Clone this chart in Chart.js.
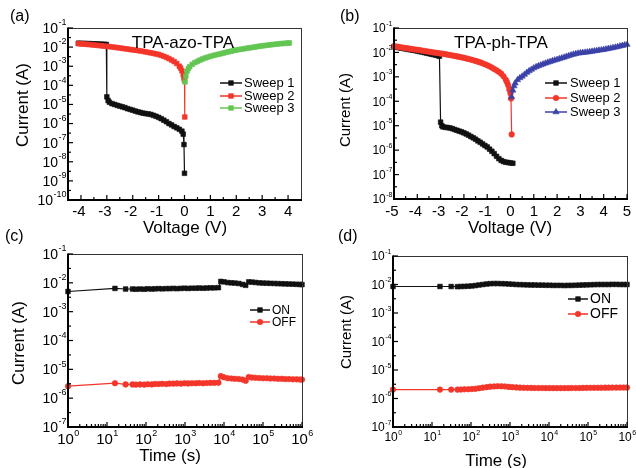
<!DOCTYPE html>
<html>
<head>
<meta charset="utf-8">
<script src="https://cdn.jsdelivr.net/npm/chart.js@4.4.0/dist/chart.umd.min.js"></script>
<style>
  html, body { margin: 0; padding: 0; background: #fff; }
  #wrap { position: relative; width: 636px; height: 468px; }
  #wrap canvas { position: absolute; left: 0; top: 0; }
</style>
</head>
<body>
<div id="wrap">
  <canvas id="panel-a" width="636" height="468"></canvas>
  <canvas id="panel-b" width="636" height="468"></canvas>
  <canvas id="panel-c" width="636" height="468"></canvas>
  <canvas id="panel-d" width="636" height="468"></canvas>
</div>
<script>
// (a) TPA-azo-TPA, [voltage, current]
var sweepA1 = [[-4.1,1.6e-2],[-4.0,1.58e-2],[-3.9,1.56e-2],[-3.8,1.54e-2],[-3.7,1.52e-2],[-3.6,1.5e-2],[-3.5,1.48e-2],
  [-3.4,1.46e-2],[-3.3,1.44e-2],[-3.2,1.42e-2],[-3.1,1.4e-2],[-3.02,1.38e-2],[-3.0,2.5e-5],[-2.95,1.6e-5],[-2.9,1.3e-5],
  [-2.8,1.1e-5],[-2.7,1.0e-5],[-2.6,9.0e-6],[-2.5,8.2e-6],[-2.4,7.5e-6],[-2.3,6.8e-6],[-2.2,6.0e-6],[-2.1,5.5e-6],
  [-2.0,5.0e-6],[-1.9,4.5e-6],[-1.8,4.1e-6],[-1.7,3.8e-6],[-1.6,3.5e-6],[-1.5,3.3e-6],[-1.4,3.2e-6],[-1.3,3.0e-6],
  [-1.2,2.7e-6],[-1.1,2.4e-6],[-1.0,2.1e-6],[-0.9,1.8e-6],[-0.8,1.5e-6],[-0.7,1.25e-6],[-0.6,1.0e-6],[-0.5,8.5e-7],
  [-0.4,7.0e-7],[-0.3,6.0e-7],[-0.2,5.0e-7],[-0.1,4.0e-7],[-0.05,2.8e-7],[-0.02,8e-8],[0,2.5e-9]];
var sweepA2 = [[-4.1,1.52e-2],[-4.0,1.48e-2],[-3.9,1.45e-2],[-3.8,1.41e-2],[-3.7,1.37e-2],[-3.6,1.33e-2],[-3.5,1.29e-2],
  [-3.4,1.25e-2],[-3.3,1.21e-2],[-3.2,1.17e-2],[-3.1,1.13e-2],[-3.0,1.1e-2],[-2.9,1.06e-2],[-2.8,1.02e-2],[-2.7,9.8e-3],
  [-2.6,9.4e-3],[-2.5,9.0e-3],[-2.4,8.6e-3],[-2.3,8.2e-3],[-2.2,7.9e-3],[-2.1,7.5e-3],[-2.0,7.2e-3],[-1.9,6.9e-3],
  [-1.8,6.6e-3],[-1.7,6.3e-3],[-1.6,6.0e-3],[-1.5,5.6e-3],[-1.4,5.3e-3],[-1.3,5.0e-3],[-1.2,4.7e-3],[-1.1,4.4e-3],
  [-1.0,4.1e-3],[-0.9,3.7e-3],[-0.8,3.3e-3],[-0.7,2.9e-3],[-0.6,2.5e-3],[-0.5,2.1e-3],[-0.4,1.75e-3],[-0.3,1.4e-3],
  [-0.2,1.0e-3],[-0.15,8.0e-4],[-0.1,5.8e-4],[-0.05,3.6e-4],[-0.02,2.4e-4],[0,1.8e-4],[0.01,2.2e-6]];
var sweepA3 = [[0.02,1.5e-4],[0.05,3.0e-4],[0.1,5.5e-4],[0.15,7.5e-4],[0.2,9.5e-4],[0.3,1.25e-3],[0.4,1.55e-3],
  [0.5,1.8e-3],[0.6,2.1e-3],[0.7,2.4e-3],[0.8,2.7e-3],[0.9,3.0e-3],[1.0,3.3e-3],[1.1,3.6e-3],[1.2,3.9e-3],[1.3,4.2e-3],
  [1.4,4.5e-3],[1.5,4.9e-3],[1.6,5.3e-3],[1.7,5.7e-3],[1.8,6.1e-3],[1.9,6.6e-3],[2.0,7.0e-3],[2.1,7.4e-3],[2.2,7.8e-3],
  [2.3,8.2e-3],[2.4,8.7e-3],[2.5,9.1e-3],[2.6,9.6e-3],[2.7,1.0e-2],[2.8,1.06e-2],[2.9,1.11e-2],[3.0,1.16e-2],
  [3.1,1.21e-2],[3.2,1.26e-2],[3.3,1.31e-2],[3.4,1.36e-2],[3.5,1.41e-2],[3.6,1.46e-2],[3.7,1.51e-2],[3.8,1.55e-2],
  [3.9,1.59e-2],[4.0,1.63e-2],[4.05,1.65e-2]];

// (b) TPA-ph-TPA
var sweepB1 = [[-5.0,1.7e-2],[-4.9,1.63e-2],[-4.8,1.57e-2],[-4.7,1.51e-2],[-4.6,1.45e-2],[-4.5,1.4e-2],[-4.4,1.34e-2],
  [-4.3,1.29e-2],[-4.2,1.24e-2],[-4.1,1.19e-2],[-4.0,1.14e-2],[-3.9,1.09e-2],[-3.8,1.04e-2],[-3.7,9.9e-3],[-3.6,9.4e-3],
  [-3.5,8.9e-3],[-3.4,8.5e-3],[-3.3,8.1e-3],[-3.2,7.7e-3],[-3.1,7.3e-3],[-3.05,7.0e-3],[-3.0,1.4e-5],[-2.95,1.0e-5],
  [-2.9,9.0e-6],[-2.8,8.6e-6],[-2.7,8.4e-6],[-2.6,8.1e-6],[-2.5,7.6e-6],[-2.4,7.0e-6],[-2.3,6.5e-6],[-2.2,6.0e-6],
  [-2.1,5.6e-6],[-2.0,5.1e-6],[-1.9,4.6e-6],[-1.8,4.1e-6],[-1.7,3.6e-6],[-1.6,3.2e-6],[-1.5,2.8e-6],[-1.4,2.4e-6],
  [-1.3,2.1e-6],[-1.2,1.8e-6],[-1.1,1.55e-6],[-1.0,1.35e-6],[-0.9,1.1e-6],[-0.8,9.0e-7],[-0.7,7.2e-7],[-0.6,5.6e-7],
  [-0.5,4.5e-7],[-0.4,3.8e-7],[-0.3,3.4e-7],[-0.2,3.2e-7],[-0.1,3.1e-7],[0,3.0e-7],[0.1,2.9e-7]];
var sweepB2 = [[-5.0,1.8e-2],[-4.9,1.74e-2],[-4.8,1.68e-2],[-4.7,1.62e-2],[-4.6,1.56e-2],[-4.5,1.51e-2],[-4.4,1.46e-2],
  [-4.3,1.41e-2],[-4.2,1.36e-2],[-4.1,1.32e-2],[-4.0,1.28e-2],[-3.9,1.24e-2],[-3.8,1.19e-2],[-3.7,1.15e-2],[-3.6,1.11e-2],
  [-3.5,1.07e-2],[-3.4,1.03e-2],[-3.3,1.0e-2],[-3.2,9.7e-3],[-3.1,9.4e-3],[-3.0,9.1e-3],[-2.9,8.8e-3],[-2.8,8.5e-3],
  [-2.7,8.1e-3],[-2.6,7.8e-3],[-2.5,7.5e-3],[-2.4,7.2e-3],[-2.3,6.9e-3],[-2.2,6.6e-3],[-2.1,6.3e-3],[-2.0,6.0e-3],
  [-1.9,5.7e-3],[-1.8,5.4e-3],[-1.7,5.1e-3],[-1.6,4.8e-3],[-1.5,4.5e-3],[-1.4,4.2e-3],[-1.3,3.9e-3],[-1.2,3.6e-3],
  [-1.1,3.3e-3],[-1.0,3.0e-3],[-0.9,2.7e-3],[-0.8,2.4e-3],[-0.7,2.1e-3],[-0.6,1.85e-3],[-0.5,1.6e-3],[-0.4,1.35e-3],
  [-0.3,1.05e-3],[-0.2,7.6e-4],[-0.15,6.0e-4],[-0.1,4.5e-4],[-0.05,3.0e-4],[0,2.1e-4],[0.02,1.3e-4],[0.05,4.4e-6]];
var sweepB3 = [[0.05,1.5e-4],[0.1,2.8e-4],[0.15,4.2e-4],[0.2,5.5e-4],[0.3,7.5e-4],[0.4,9.0e-4],[0.5,1.05e-3],
  [0.6,1.25e-3],[0.7,1.5e-3],[0.8,1.75e-3],[0.9,2.0e-3],[1.0,2.3e-3],[1.1,2.55e-3],[1.2,2.8e-3],[1.3,3.05e-3],
  [1.4,3.3e-3],[1.5,3.6e-3],[1.6,3.9e-3],[1.7,4.2e-3],[1.8,4.5e-3],[1.9,4.8e-3],[2.0,5.1e-3],[2.1,5.5e-3],[2.2,5.9e-3],
  [2.3,6.3e-3],[2.4,6.8e-3],[2.5,7.3e-3],[2.6,7.8e-3],[2.7,8.3e-3],[2.8,8.8e-3],[2.9,9.2e-3],[3.0,9.5e-3],[3.1,9.8e-3],
  [3.2,1.0e-2],[3.3,1.03e-2],[3.4,1.06e-2],[3.5,1.1e-2],[3.6,1.14e-2],[3.7,1.18e-2],[3.8,1.22e-2],[3.9,1.26e-2],
  [4.0,1.3e-2],[4.1,1.36e-2],[4.2,1.42e-2],[4.3,1.48e-2],[4.4,1.55e-2],[4.5,1.62e-2],[4.6,1.7e-2],[4.7,1.8e-2],
  [4.8,1.9e-2],[4.9,2.0e-2],[5.0,2.1e-2]];

// (c) retention, TPA-azo-TPA
var timeC = [1,16,30,45,55,70,90,110,140,170,210,260,330,400,500,620,780,970,1200,1500,1900,2300,2900,3600,4500,
  5600,7200,8300,10000,12500,15500,19000,24000,30000,36000,43000,52000,64000,80000,100000,125000,155000,195000,
  240000,300000,370000,460000,580000,720000,880000,1000000];
var onC = [5.0e-3,6.4e-3,6.1e-3,6.1e-3,6.0e-3,6.1e-3,6.0e-3,6.2e-3,6.1e-3,6.2e-3,6.3e-3,6.2e-3,6.3e-3,6.3e-3,6.4e-3,
  6.3e-3,6.4e-3,6.5e-3,6.4e-3,6.5e-3,6.5e-3,6.6e-3,6.5e-3,6.6e-3,6.7e-3,6.7e-3,6.8e-3,1.12e-2,1.08e-2,1.02e-2,1.0e-2,
  9.8e-3,9.5e-3,8.8e-3,8.2e-3,1.08e-2,1.06e-2,1.03e-2,1.0e-2,9.8e-3,9.7e-3,9.6e-3,9.5e-3,9.4e-3,9.3e-3,9.2e-3,9.1e-3,
  9.0e-3,8.9e-3,8.8e-3,8.7e-3];
var offC = [2.6e-6,3.3e-6,3.0e-6,3.0e-6,2.95e-6,3.0e-6,2.95e-6,3.05e-6,3.0e-6,3.1e-6,3.1e-6,3.15e-6,3.1e-6,3.2e-6,
  3.2e-6,3.25e-6,3.2e-6,3.3e-6,3.25e-6,3.3e-6,3.3e-6,3.35e-6,3.3e-6,3.35e-6,3.4e-6,3.4e-6,3.45e-6,5.8e-6,5.3e-6,4.9e-6,
  4.8e-6,4.7e-6,4.6e-6,4.4e-6,4.0e-6,5.4e-6,5.2e-6,5.1e-6,5.0e-6,4.9e-6,4.9e-6,4.8e-6,4.8e-6,4.7e-6,4.7e-6,4.6e-6,
  4.6e-6,4.5e-6,4.5e-6,4.45e-6,4.4e-6];

// (d) retention, TPA-ph-TPA
var timeD = [1,16,31,45,55,68,85,105,130,160,200,250,310,390,480,600,750,930,1150,1450,1800,2250,2800,3500,4300,
  5400,6700,8300,10300,12800,16000,20000,25000,31000,38000,48000,60000,74000,92000,115000,143000,178000,220000,
  275000,340000,420000,530000,660000,820000,1000000];
var onD = [8.5e-3,8.5e-3,8.5e-3,8.4e-3,8.5e-3,8.6e-3,8.7e-3,8.9e-3,9.2e-3,9.6e-3,1.0e-2,1.04e-2,1.07e-2,1.08e-2,
  1.08e-2,1.07e-2,1.06e-2,1.04e-2,1.02e-2,1.0e-2,9.9e-3,9.8e-3,9.7e-3,9.6e-3,9.6e-3,9.5e-3,9.5e-3,9.4e-3,9.4e-3,
  9.3e-3,9.3e-3,9.3e-3,9.2e-3,9.3e-3,9.3e-3,9.4e-3,9.5e-3,9.6e-3,9.7e-3,9.8e-3,9.9e-3,1.0e-2,1.0e-2,1.0e-2,1.0e-2,
  1.01e-2,1.01e-2,1.0e-2,1.0e-2,1.0e-2];
var offD = [2.05e-6,2.05e-6,2.05e-6,2.05e-6,2.07e-6,2.1e-6,2.12e-6,2.15e-6,2.2e-6,2.3e-6,2.4e-6,2.5e-6,2.6e-6,2.65e-6,
  2.7e-6,2.68e-6,2.65e-6,2.55e-6,2.5e-6,2.45e-6,2.4e-6,2.38e-6,2.36e-6,2.35e-6,2.34e-6,2.33e-6,2.33e-6,2.32e-6,2.32e-6,
  2.31e-6,2.31e-6,2.31e-6,2.32e-6,2.32e-6,2.33e-6,2.33e-6,2.34e-6,2.35e-6,2.36e-6,2.37e-6,2.38e-6,2.38e-6,2.39e-6,
  2.4e-6,2.4e-6,2.41e-6,2.41e-6,2.42e-6,2.42e-6,2.42e-6];

// tick labels
var voltTicksA = [-4, -3, -2, -1, 0, 1, 2, 3, 4];
var voltTicksB = [-5, -4, -3, -2, -1, 0, 1, 2, 3, 4, 5];
var decadesA = [-1, -2, -3, -4, -5, -6, -7, -8, -9, -10];
var decadesB = [-1, -2, -3, -4, -5, -6, -7, -8];
var decadesCD = [-1, -2, -3, -4, -5, -6, -7];
var timeDecades = [0, 1, 2, 3, 4, 5, 6];
var sweepNames = ['Sweep 1', 'Sweep 2', 'Sweep 3'];
var stateNames = ['ON', 'OFF'];

var W = 636, H = 468;
var FONT = '"Liberation Sans", Arial, Helvetica, sans-serif';
var BLACK = '#111111', RED = '#f3352a', GREEN = '#63c653', BLUE = '#3a42a8';

function pairs(list) {
  return list.map(function (d) { return { x: d[0], y: d[1] }; });
}
function zip(xs, ys) {
  return xs.map(function (x, i) { return { x: x, y: ys[i] }; });
}
function series(label, data, color, style, r, order) {
  return {
    label: label, data: data, order: order, clip: false,
    borderColor: color, backgroundColor: color, borderWidth: 1.2,
    pointStyle: style, pointRadius: r, pointBorderWidth: 0.6, tension: 0
  };
}

// "10" with a raised exponent
function powLabel(ctx, exp, x, y, size, align) {
  var small = Math.round(size * 0.62);
  ctx.font = size + 'px ' + FONT;
  var wb = ctx.measureText('10').width;
  ctx.font = small + 'px ' + FONT;
  var ws = ctx.measureText(String(exp)).width;
  var x0 = align === 'right' ? x - wb - ws : x - (wb + ws) / 2;
  ctx.textAlign = 'left';
  ctx.textBaseline = 'middle';
  ctx.font = size + 'px ' + FONT;
  ctx.fillText('10', x0, y);
  ctx.font = small + 'px ' + FONT;
  ctx.fillText(String(exp), x0 + wb + 0.5, y - size * 0.45);
}

function framePlugin(o) {
  return {
    id: 'frame',
    afterDraw: function (chart) {
      var ctx = chart.ctx, a = chart.chartArea, sx = chart.scales.x, sy = chart.scales.y;
      function seg(x1, y1, x2, y2) { ctx.beginPath(); ctx.moveTo(x1, y1); ctx.lineTo(x2, y2); ctx.stroke(); }
      ctx.save();
      ctx.strokeStyle = '#333';
      ctx.lineWidth = 1;
      seg(a.left, a.top + 0.5, a.right + 0.5, a.top + 0.5);
      seg(a.right + 0.5, a.top, a.right + 0.5, a.bottom);
      ctx.strokeStyle = '#000';
      ctx.lineWidth = 2;
      seg(a.left, a.top - 0.5, a.left, a.bottom + 1);
      seg(a.left - 1, a.bottom, a.right + 1, a.bottom);

      // inward ticks
      ctx.lineWidth = 1.2;
      var xMajor, xMinor = [];
      if (o.xLog) {
        xMajor = o.xTicks.map(function (e) { return Math.pow(10, e); });
        o.xTicks.slice(0, -1).forEach(function (e) {
          for (var k = 2; k < 10; k++) xMinor.push(k * Math.pow(10, e));
        });
      } else {
        xMajor = o.xTicks;
        xMinor = o.xTicks.map(function (v) { return v + 0.5; }).filter(function (v) { return v < sx.max; });
        if (o.xTicks[0] - 0.5 > sx.min) xMinor.push(o.xTicks[0] - 0.5);
      }
      xMajor.forEach(function (v) { var p = sx.getPixelForValue(v); seg(p, a.bottom, p, a.bottom - 5); });
      xMinor.forEach(function (v) { var p = sx.getPixelForValue(v); seg(p, a.bottom, p, a.bottom - 3); });
      o.yTicks.forEach(function (e) {
        var p = sy.getPixelForValue(Math.pow(10, e));
        seg(a.left, p, a.left + 5, p);
        if (e > o.yTicks[o.yTicks.length - 1]) {
          var m = sy.getPixelForValue(Math.pow(10, e - 0.5));
          seg(a.left, m, a.left + 3, m);
        }
      });

      // tick labels
      ctx.fillStyle = '#000';
      o.yTicks.forEach(function (e) {
        powLabel(ctx, e, o.yLabelRight, sy.getPixelForValue(Math.pow(10, e)) + 1, o.yFont, 'right');
      });
      o.xTicks.forEach(function (v) {
        if (o.xLog) {
          powLabel(ctx, v, sx.getPixelForValue(Math.pow(10, v)), o.xLabelY, o.xFont, 'center');
        } else {
          ctx.font = o.xFont + 'px ' + FONT;
          ctx.textAlign = 'center';
          ctx.textBaseline = 'middle';
          ctx.fillText(String(v), sx.getPixelForValue(v) - (v < 0 ? 2 : 0), o.xLabelY);
        }
      });

      // axis titles, panel title, tag
      ctx.textAlign = 'center';
      ctx.textBaseline = 'middle';
      ctx.font = o.xTitle.size + 'px ' + FONT;
      ctx.fillText(o.xTitle.text, o.xTitle.x, o.xTitle.y);
      ctx.save();
      ctx.translate(o.yTitle.x, o.yTitle.y);
      ctx.rotate(-Math.PI / 2);
      ctx.font = o.yTitle.size + 'px ' + FONT;
      ctx.fillText('Current (A)', 0, 0);
      ctx.restore();
      if (o.title) {
        ctx.font = o.title.size + 'px ' + FONT;
        ctx.fillText(o.title.text, o.title.x, o.title.y);
      }
      ctx.textAlign = 'left';
      ctx.font = '16px ' + FONT;
      ctx.fillText(o.tag.text, o.tag.x, o.tag.y);

      // legend inside the plot
      var L = o.legend;
      L.names.forEach(function (name, i) {
        var d = chart.data.datasets[i], y = L.ys[i];
        ctx.strokeStyle = d.borderColor;
        ctx.fillStyle = d.backgroundColor;
        ctx.lineWidth = 1.5;
        seg(L.x0, y, L.x1, y);
        ctx.lineWidth = 0.6;
        Chart.helpers.drawPoint(ctx, { pointStyle: d.pointStyle, radius: d.pointRadius, rotation: 0, borderWidth: 0.6 }, (L.x0 + L.x1) / 2, y);
        ctx.fillStyle = '#000';
        ctx.font = L.size + 'px ' + FONT;
        ctx.textBaseline = 'middle';
        ctx.fillText(name, L.tx, y + 0.5);
      });
      ctx.restore();
    }
  };
}

function panel(id, o) {
  var ctx = document.getElementById(id).getContext('2d');
  return new Chart(ctx, {
    type: 'line',
    data: { datasets: o.datasets },
    options: {
      responsive: false,
      animation: false,
      events: [],
      layout: { padding: { left: o.area[0], right: W - o.area[1], top: o.area[2], bottom: H - o.area[3] } },
      plugins: { legend: { display: false }, tooltip: { enabled: false } },
      scales: {
        x: { type: o.xLog ? 'logarithmic' : 'linear', min: o.xMin, max: o.xMax, display: false },
        y: { type: 'logarithmic', min: o.yMin, max: o.yMax, display: false }
      }
    },
    plugins: [framePlugin(o)]
  });
}

panel('panel-a', {
  area: [68, 301, 28, 200], xMin: -4.5, xMax: 4.5, yMin: 1e-10, yMax: 1e-1,
  datasets: [
    series(sweepNames[0], pairs(sweepA1), BLACK, 'rect', 3.3, 3),
    series(sweepNames[1], pairs(sweepA2), RED, 'rect', 3.3, 2),
    series(sweepNames[2], pairs(sweepA3), GREEN, 'rect', 3.3, 1)
  ],
  xTicks: voltTicksA, yTicks: decadesA, yFont: 14, yLabelRight: 66, xFont: 15, xLabelY: 212,
  xTitle: { text: 'Voltage (V)', x: 185, y: 228, size: 17 },
  yTitle: { x: 23, y: 105, size: 17 },
  title: { text: 'TPA-azo-TPA', x: 183, y: 43, size: 17 },
  legend: { names: sweepNames, x0: 220, x1: 242, tx: 244, ys: [83, 96, 108], size: 13 },
  tag: { text: '(a)', x: 10, y: 17 }
});

panel('panel-b', {
  area: [394, 627, 28, 199], xMin: -5, xMax: 5, yMin: 1e-8, yMax: 1e-1,
  datasets: [
    series(sweepNames[0], pairs(sweepB1), BLACK, 'rect', 3.3, 3),
    series(sweepNames[1], pairs(sweepB2), RED, 'circle', 2.8, 2),
    series(sweepNames[2], pairs(sweepB3), BLUE, 'triangle', 3.6, 1)
  ],
  xTicks: voltTicksB, yTicks: decadesB, yFont: 12, yLabelRight: 392, xFont: 15, xLabelY: 212,
  xTitle: { text: 'Voltage (V)', x: 510, y: 228, size: 17 },
  yTitle: { x: 346, y: 110, size: 15 },
  title: { text: 'TPA-ph-TPA', x: 501, y: 43, size: 17 },
  legend: { names: sweepNames, x0: 545, x1: 567, tx: 570, ys: [83, 98, 112], size: 13 },
  tag: { text: '(b)', x: 340, y: 17 }
});

panel('panel-c', {
  area: [68, 302, 254, 427], xLog: true, xMin: 1, xMax: 1e6, yMin: 1e-7, yMax: 1e-1,
  datasets: [
    series(stateNames[0], zip(timeC, onC), BLACK, 'rect', 3.3, 2),
    series(stateNames[1], zip(timeC, offC), RED, 'circle', 2.8, 1)
  ],
  xTicks: timeDecades, yTicks: decadesCD, yFont: 14, yLabelRight: 66, xFont: 15, xLabelY: 440,
  xTitle: { text: 'Time (s)', x: 170, y: 456, size: 17 },
  yTitle: { x: 19, y: 343, size: 17 },
  legend: { names: stateNames, x0: 250, x1: 270, tx: 272, ys: [310, 322], size: 12 },
  tag: { text: '(c)', x: 5, y: 237 }
});

panel('panel-d', {
  area: [393, 627, 256, 427], xLog: true, xMin: 1, xMax: 1e6, yMin: 1e-7, yMax: 1e-1,
  datasets: [
    series(stateNames[0], zip(timeD, onD), BLACK, 'rect', 3.3, 2),
    series(stateNames[1], zip(timeD, offD), RED, 'circle', 2.8, 1)
  ],
  xTicks: timeDecades, yTicks: decadesCD, yFont: 12, yLabelRight: 391, xFont: 12, xLabelY: 438,
  xTitle: { text: 'Time (s)', x: 496, y: 461, size: 17 },
  yTitle: { x: 347, y: 332, size: 15 },
  legend: { names: stateNames, x0: 568, x1: 588, tx: 590, ys: [299, 314], size: 14 },
  tag: { text: '(d)', x: 338, y: 237 }
});
</script>
</body>
</html>
